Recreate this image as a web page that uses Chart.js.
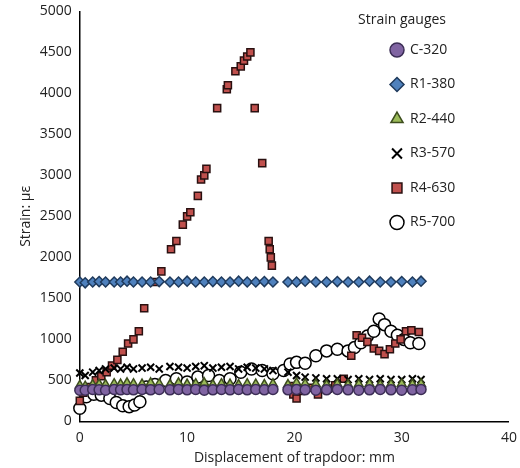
<!DOCTYPE html>
<html><head><meta charset="utf-8">
<script src="https://cdn.jsdelivr.net/npm/chart.js@4"></script>
<style>body{margin:0;background:#fff}#w{width:520px;height:468px}</style>
</head><body><div id="w"><canvas id="c"></canvas></div>
<script>
// Shared displacement readings for the flat gauges (mm)
const xFlat = [0, 0.5, 1.2, 1.8, 2.4, 3.2, 3.8, 4.4, 5.0, 5.8, 6.6, 7.4, 8.4, 9.2, 10.0, 10.8, 11.6, 12.4, 13.2, 14.0, 14.8, 15.6, 16.4, 17.2, 18.0, 19.4, 20.2, 21.0, 22.0, 23.0, 24.0, 25.0, 26.0, 27.0, 28.0, 29.0, 30.0, 31.0, 31.8];
const c320 = [380, 380, 390, 385, 380, 390, 385, 390, 385, 390, 385, 390, 385, 390, 385, 390, 380, 385, 390, 385, 390, 385, 390, 385, 390, 385, 390, 385, 380, 385, 390, 385, 380, 385, 390, 385, 380, 385, 390];
const r1380 = [1700, 1690, 1700, 1705, 1700, 1700, 1700, 1710, 1700, 1700, 1700, 1705, 1700, 1700, 1710, 1700, 1700, 1705, 1700, 1700, 1710, 1700, 1700, 1705, 1700, 1700, 1700, 1710, 1700, 1700, 1705, 1700, 1700, 1710, 1700, 1700, 1705, 1700, 1710];
const r2440 = [440, 430, 450, 455, 450, 460, 455, 470, 460, 455, 470, 460, 450, 470, 455, 460, 470, 450, 460, 455, 450, 460, 455, 450, 460, 450, 470, 460, 455, 450, 460, 450, 455, 460, 450, 455, 460, 455, 460];
const r3570 = [590, 560, 600, 620, 640, 650, 640, 660, 640, 650, 660, 640, 670, 660, 650, 670, 680, 650, 660, 670, 640, 660, 650, 640, 620, 600, 560, 540, 530, 520, 520, 510, 520, 510, 520, 510, 510, 520, 510];

const xR4 = [0, 0.3, 1.0, 1.5, 2.0, 2.5, 3.0, 3.5, 4.0, 4.5, 5.0, 5.5, 6.0, 7.0, 7.6, 8.5, 9.0, 9.6, 10.0, 10.3, 11.0, 11.3, 11.6, 11.8, 12.8, 13.7, 13.8, 14.5, 15.0, 15.3, 15.6, 15.9, 16.3, 17.0, 17.6, 17.7, 17.8, 17.9, 19.6, 19.9, 20.2, 20.6, 21.4, 22.2, 23.1, 23.8, 24.6, 25.3, 25.8, 26.3, 26.8, 27.4, 27.9, 28.4, 28.9, 29.4, 29.9, 30.4, 30.9, 31.6];
const r4630 = [250, 350, 420, 500, 550, 600, 680, 750, 850, 950, 1000, 1100, 1380, 1700, 1830, 2100, 2200, 2400, 2500, 2550, 2750, 2950, 3000, 3080, 3820, 4050, 4100, 4270, 4330, 4400, 4450, 4500, 3820, 3150, 2200, 2100, 2000, 1900, 430, 330, 280, 370, 410, 330, 400, 440, 520, 800, 1050, 1020, 970, 890, 860, 820, 880, 950, 1000, 1100, 1110, 1090];

const xR5 = [0, 0.6, 1.3, 2.0, 2.8, 3.4, 4.0, 4.6, 5.1, 5.6, 6.2, 7.0, 8.0, 9.0, 10.0, 11.0, 12.0, 13.0, 14.0, 15.0, 16.0, 17.0, 18.0, 19.0, 19.6, 20.2, 21.0, 22.0, 23.0, 24.0, 25.0, 25.6, 26.2, 26.8, 27.4, 27.9, 28.4, 29.0, 29.6, 30.2, 30.8, 31.6];
const r5700 = [160, 300, 330, 320, 280, 230, 190, 180, 200, 240, 420, 450, 500, 520, 480, 540, 560, 500, 520, 600, 640, 620, 580, 620, 700, 720, 710, 800, 860, 880, 860, 900, 960, 1040, 1100, 1250, 1180, 1100, 1050, 1000, 960, 950];

const toPts = (xs, ys) => xs.map((x, i) => ({ x: x, y: ys[i] }));

const series = [
  { label: 'C-320', data: toPts(xFlat, c320), pointStyle: 'circle', backgroundColor: '#8064a2', borderColor: '#3b2d55', pointRadius: 5 },
  { label: 'R1-380', data: toPts(xFlat, r1380), pointStyle: 'rectRot', backgroundColor: '#4f81bd', borderColor: '#1f3a5c', pointRadius: 5 },
  { label: 'R2-440', data: toPts(xFlat, r2440), pointStyle: 'triangle', backgroundColor: '#9bbb59', borderColor: '#3d4d1e', pointRadius: 5 },
  { label: 'R3-570', data: toPts(xFlat, r3570), pointStyle: 'crossRot', backgroundColor: '#000', borderColor: '#000', pointRadius: 5, borderWidth: 2 },
  { label: 'R4-630', data: toPts(xR4, r4630), pointStyle: 'rect', backgroundColor: '#c0504d', borderColor: '#2a1010', pointRadius: 5 },
  { label: 'R5-700', data: toPts(xR5, r5700), pointStyle: 'circle', backgroundColor: '#fff', borderColor: '#000', pointRadius: 6 }
];

// Legend sits inside the plot, top right, like the original
const insideLegend = {
  id: 'insideLegend',
  afterDraw(chart) {
    const ctx = chart.ctx;
    ctx.save();
    ctx.font = '14px "Open Sans"';
    ctx.fillStyle = '#222';
    ctx.textBaseline = 'middle';
    ctx.fillText('Strain gauges', 358, 20);
    chart.data.datasets.forEach((ds, i) => {
      const y = 50 + i * 34.5;
      ctx.strokeStyle = ds.borderColor;
      ctx.fillStyle = ds.backgroundColor;
      ctx.lineWidth = ds.borderWidth;
      Chart.helpers.drawPoint(ctx, { pointStyle: ds.pointStyle, radius: 7, rotation: 0, borderWidth: ds.borderWidth }, 397, y);
      ctx.fillStyle = '#222';
      ctx.fillText(ds.label, 410, y);
    });
    ctx.restore();
  }
};

new Chart(document.getElementById('c'), {
  type: 'scatter',
  data: { datasets: series.map(s => Object.assign({ borderWidth: 1.5, clip: false }, s)) },
  plugins: [insideLegend],
  options: {
    responsive: true, maintainAspectRatio: false, animation: false,
    layout: { padding: { left: 16, right: 10, top: 3, bottom: 2 } },
    plugins: {
      legend: { display: false },
      tooltip: { enabled: false }
    },
    scales: {
      x: {
        min: 0, max: 40,
        grid: { display: false, drawTicks: true, tickColor: '#000', tickLength: 5 },
        border: { color: '#000', width: 1.5 },
        ticks: { stepSize: 10, color: '#222', font: { family: 'Open Sans', size: 14 } },
        title: { display: true, text: 'Displacement of trapdoor: mm', color: '#222', font: { family: 'Open Sans', size: 14 }, padding: 0 }
      },
      y: {
        min: 0, max: 5000,
        grid: { display: false, tickColor: '#000', tickLength: 5 },
        border: { color: '#000', width: 1.5 },
        ticks: { stepSize: 500, color: '#222', font: { family: 'Open Sans', size: 14 }, callback: v => String(v) },
        title: { display: true, text: 'Strain: με', color: '#222', font: { family: 'Open Sans', size: 14 }, padding: 2 }
      }
    }
  }
});
</script></body></html>
